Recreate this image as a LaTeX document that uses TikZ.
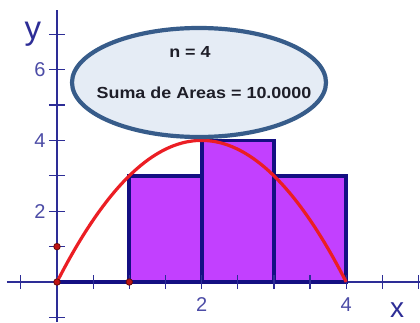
\documentclass[tikz,border=0pt]{standalone}
\usepackage{fontspec}
\setmainfont{Liberation Sans}
\newfontfamily\ellfont[FakeStretch=1.12]{Liberation Sans}
\definecolor{axisblue}{RGB}{45,45,150}
\definecolor{rectnavy}{RGB}{20,15,130}
\definecolor{rectfill}{RGB}{194,64,255}
\definecolor{curvered}{RGB}{235,30,36}
\definecolor{dotred}{RGB}{190,20,20}
\definecolor{ellfill}{RGB}{229,236,245}
\definecolor{ellborder}{RGB}{55,92,138}
\definecolor{elltext}{RGB}{30,30,40}
\tikzset{
  axisline/.style={draw=axisblue, line width=1.3pt},
  tickline/.style={draw=axisblue, line width=1.2pt},
  numlabel/.style={text=axisblue!85!white, font=\fontsize{20}{22}\selectfont, inner sep=0pt},
  axislabel/.style={text=axisblue, inner sep=0pt},
  riemann/.style={fill=rectfill, draw=rectnavy, line width=3.8pt, line join=miter},
  curve/.style={draw=curvered, line width=3.2pt},
  reddot/.style={circle, fill=dotred, draw=dotred!55!black, line width=0.8pt, minimum size=6.5pt, inner sep=0pt},
  bubble/.style={ellipse, fill=ellfill, draw=ellborder, line width=4.2pt, minimum width=254pt, minimum height=109pt, inner sep=0pt},
  bubbletext/.style={text=elltext, font=\ellfont\bfseries\fontsize{16}{18}\selectfont, inner sep=0pt}
}
\usetikzlibrary{shapes.geometric}
\begin{document}
\begin{tikzpicture}[x=72.3pt, y=35.4pt]
\useasboundingbox (-57pt,-40pt) rectangle (363pt,282pt);
% axes
\coordinate (xl) at (-50pt,0);
\coordinate (xr) at (363pt,0);
\coordinate (yb) at (0,-40pt);
\coordinate (yt) at (0,272pt);
\draw[axisline] (xl) -- (xr);
\draw[axisline] (yb) -- (yt);
% rectangles
\draw[riemann] (1,0) rectangle (2,3);
\draw[riemann] (2,0) rectangle (3,4);
\draw[riemann] (3,0) rectangle (4,3);
\coordinate (z0) at (0,0);
\coordinate (z1) at (1,0);
\draw[draw=rectnavy, line width=3.8pt] (z0) -- (z1);
% ticks
\foreach \t in {-0.5,0.5,1,1.5,2,2.5,3,3.5,4,4.5,5}
  \draw[tickline] (\t,-7pt) -- (\t,7pt);
\foreach \t in {-1,1,2,3,4,5,6,7}
  \draw[tickline] (-8pt,\t) -- (8pt,\t);
% curve
\draw[curve] plot[domain=0:4, samples=80, smooth] (\x, {4*\x-\x*\x});
% dots
\node[reddot] (d0) at (0,0) {};
\node[reddot] (d1) at (1,0) {};
\node[reddot] (d2) at (0,1) {};
% labels
\node[numlabel] (l6) at (-17pt,6) {6};
\node[numlabel] (l4) at (-17pt,4) {4};
\node[numlabel] (l2) at (-17pt,2) {2};
\node[numlabel] (lx2) at (2,-23pt) {2};
\node[numlabel] (lx4) at (4,-23pt) {4};
\node[axislabel, font=\fontsize{33}{36}\selectfont, anchor=base] (ylab) at (-24pt,242pt) {y};
\node[axislabel, font=\fontsize{28}{30}\selectfont, anchor=base] (xlab) at (340pt,-35pt) {x};
% bubble
\node[bubble] (info) at (142pt,199.5pt) {};
\node[bubbletext] (n) at (133pt,230pt) {n = 4};
\node[bubbletext] (s) at (147pt,189pt) {Suma de Areas = 10.0000};
\end{tikzpicture}
\end{document}
